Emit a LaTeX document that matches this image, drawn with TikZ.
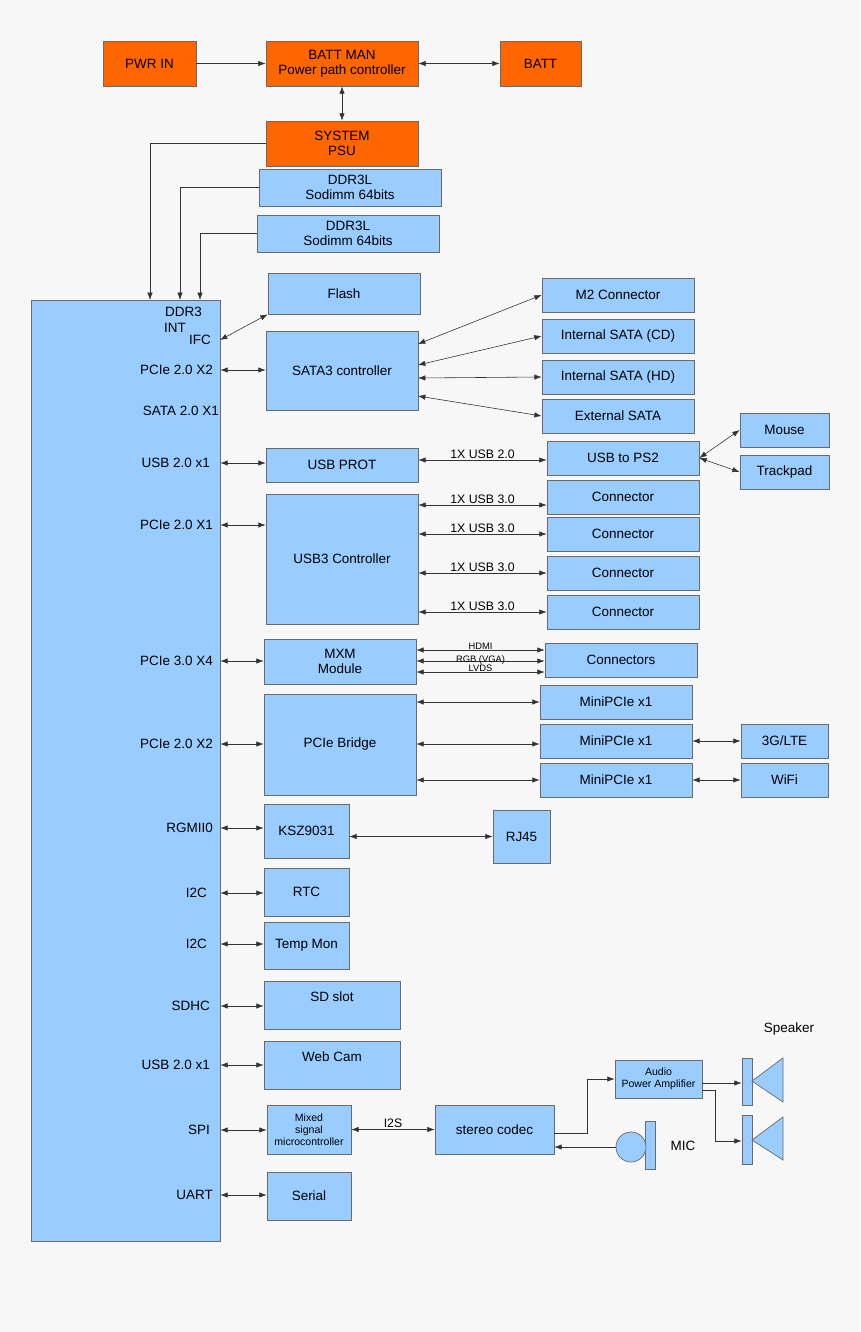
\documentclass[tikz,border=0pt]{standalone}
\usepackage{fontspec}
\setmainfont{Liberation Sans}
\usetikzlibrary{positioning, arrows.meta, calc}
\definecolor{orng}{HTML}{FF6600}
\definecolor{lblue}{HTML}{99CCFF}
\definecolor{edge}{HTML}{6A6A6A}
\definecolor{bg}{HTML}{F7F7F7}
\begin{document}
\begin{tikzpicture}[x=0.03cm, y=-0.03cm,
    blk/.style n args={2}{rectangle, draw=edge, fill=lblue, line width=0.6pt,
        minimum width=#1*0.03cm, minimum height=#2*0.03cm, inner sep=0pt,
        align=center, font=\fontsize{11.5}{12.5}\selectfont},
    pwr/.style n args={2}{blk={#1}{#2}, fill=orng},
    lbl/.style={anchor=east, font=\fontsize{11.5}{12.5}\selectfont, inner sep=0pt},
    tag/.style={font=\fontsize{10.5}{11}\selectfont, above, inner sep=1pt},
    arrow/.style={-{Latex[length=2.2mm, width=1.6mm]}, line width=0.5pt, draw=black!80},
    both/.style={{Latex[length=2.2mm, width=1.6mm]}-{Latex[length=2.2mm, width=1.6mm]}, line width=0.5pt, draw=black!80}
]
    \fill[bg] (0,0) rectangle (860,1332);

    % Power
    \node[pwr={93}{45}] (pwrin) at (149.5,63.5) {PWR IN};
    \node[pwr={152}{45}] (battman) at (342,63.5) {BATT MAN\\Power path controller};
    \node[pwr={81}{45}] (batt) at (540.5,63.5) {BATT};
    \node[pwr={152}{45}] (psu) at (342,143.5) {SYSTEM\\PSU};
    \draw[arrow] (pwrin) -- (battman);
    \draw[both] (battman) -- (batt);
    \draw[both] (battman) -- (psu);

    % Memory
    \node[blk={182}{37}] (ddra) at (350,187.5) {DDR3L\\Sodimm 64bits};
    \node[blk={182}{37}] (ddrb) at (348,233.5) {DDR3L\\Sodimm 64bits};

    % SoC
    \node[blk={189}{941}] (soc) at (125.5,770.5) {};
    \draw[arrow] (psu.west) -| (150,300);
    \draw[arrow] (ddra.west) -| (180,300);
    \draw[arrow] (ddrb.west) -| (200,300);

    \node[lbl] (lddr) at (202,312) {DDR3};
    \node[lbl] (lint) at (186,328) {INT};
    \node[lbl] (lifc) at (211,340) {IFC};
    \node[lbl] (lpcia) at (213,370) {PCIe 2.0 X2};
    \node[lbl] (lsata) at (219,411) {SATA 2.0 X1};
    \node[lbl] (lusba) at (210,463) {USB 2.0 x1};
    \node[lbl] (lpcib) at (213,525) {PCIe 2.0 X1};
    \node[lbl] (lpcic) at (213,661) {PCIe 3.0 X4};
    \node[lbl] (lpcid) at (213,744) {PCIe 2.0 X2};
    \node[lbl] (lrgm) at (213,828) {RGMII0};
    \node[lbl] (li2ca) at (207,893) {I2C};
    \node[lbl] (li2cb) at (207,944) {I2C};
    \node[lbl] (lsdhc) at (210,1006) {SDHC};
    \node[lbl] (lusbb) at (210,1065) {USB 2.0 x1};
    \node[lbl] (lspi) at (210,1130) {SPI};
    \node[lbl] (luart) at (213,1195) {UART};

    % Storage
    \node[blk={152}{41}] (flash) at (344,293.5) {Flash};
    \node[blk={152}{79}] (sata) at (342,370.5) {SATA3 controller};
    \node[blk={152}{34}] (mtwo) at (618,295) {M2 Connector};
    \node[blk={152}{34}] (satacd) at (618,336) {Internal SATA (CD)};
    \node[blk={152}{34}] (satahd) at (618,377) {Internal SATA (HD)};
    \node[blk={152}{34}] (satax) at (618,416) {External SATA};
    \draw[both] (220,340) -- (flash.south west);
    \draw[both] (lpcia -| soc.east) -- (lpcia -| sata.west);
    \draw[both] (418,344) -- (mtwo.west);
    \draw[both] (418,365) -- (satacd.west);
    \draw[both] (418,378) -- (satahd.west);
    \draw[both] (418,396) -- (satax.west);

    % USB 2.0
    \node[blk={152}{34}] (usbprot) at (342,465) {USB PROT};
    \node[blk={152}{34}] (ps2) at (623,458) {USB to PS2};
    \node[blk={89}{34}] (mouse) at (784.5,430) {Mouse};
    \node[blk={89}{34}] (pad) at (784.5,472) {Trackpad};
    \draw[both] (lusba -| soc.east) -- (lusba -| usbprot.west);
    \draw[both] (usbprot.east |- 0,460) -- node[tag] {1X USB 2.0} (ps2.west |- 0,460);
    \draw[both] (ps2.east) -- (mouse.west);
    \draw[both] (ps2.east) -- (pad.west);

    % USB 3.0
    \node[blk={152}{130}] (usbthree) at (342,559) {USB3 Controller};
    \draw[both] (lpcib -| soc.east) -- (lpcib -| usbthree.west);
    \foreach \n/\y/\w in {1/497/505, 2/534/534, 3/573/573, 4/612/612} {
        \node[blk={152}{34}] (conn\n) at (623,\y) {Connector};
        \draw[both] (usbthree.east |- 0,\w) -- node[tag] {1X USB 3.0} (conn\n.west |- 0,\w);
    }

    % Graphics
    \node[blk={152}{45}] (mxm) at (340,661.5) {MXM\\Module};
    \node[blk={152}{34}] (conns) at (621,660) {Connectors};
    \draw[both] (lpcic -| soc.east) -- (lpcic -| mxm.west);
    \draw[both] (mxm.east |- 0,650) -- node[tag, font=\fontsize{8}{8}\selectfont, inner sep=0.5pt] {HDMI} (conns.west |- 0,650);
    \draw[both] (mxm.east |- 0,661) -- node[font=\fontsize{8}{8}\selectfont, inner sep=0pt, yshift=1.2pt] {RGB (VGA)} (conns.west |- 0,661);
    \draw[both] (mxm.east |- 0,672) -- node[tag, font=\fontsize{8}{8}\selectfont, inner sep=0.3pt] {LVDS} (conns.west |- 0,672);

    % PCIe bridge
    \node[blk={152}{101}] (bridge) at (340,744.5) {PCIe Bridge};
    \node[blk={152}{34}] (minia) at (616,702) {MiniPCIe x1};
    \node[blk={152}{34}] (minib) at (616,741) {MiniPCIe x1};
    \node[blk={152}{34}] (minic) at (616,780) {MiniPCIe x1};
    \node[blk={87}{34}] (lte) at (784.5,741) {3G/LTE};
    \node[blk={87}{34}] (wifi) at (784.5,780) {WiFi};
    \draw[both] (lpcid -| soc.east) -- (lpcid -| bridge.west);
    \draw[both] (bridge.east |- minia) -- (minia.west);
    \draw[both] (bridge.east |- lpcid) -- (minib.west |- lpcid);
    \draw[both] (bridge.east |- minic) -- (minic.west);
    \draw[both] (minib) -- (lte);
    \draw[both] (minic) -- (wifi);

    % Peripherals
    \node[blk={85}{54}] (ksz) at (306.5,831) {KSZ9031};
    \node[blk={57}{53}] (rj) at (521.5,836.5) {RJ45};
    \node[blk={85}{48}] (rtc) at (306.5,892) {RTC};
    \node[blk={85}{47}] (temp) at (306.5,945.5) {Temp Mon};
    \node[blk={136}{48}, text depth=14pt] (sd) at (332,1005) {SD slot};
    \node[blk={136}{48}, text depth=14pt] (cam) at (332,1065) {Web Cam};
    \node[blk={84}{49}, font=\fontsize{9}{10}\selectfont] (mcu) at (309,1129.5) {Mixed\\signal\\microcontroller};
    \node[blk={119}{49}] (codec) at (494.5,1129.5) {stereo codec};
    \node[blk={84}{48}] (serial) at (309,1196) {Serial};
    \draw[both] (lrgm -| soc.east) -- (lrgm -| ksz.west);
    \draw[both] (ksz.east |- rj) -- (rj.west);
    \draw[both] (li2ca -| soc.east) -- (li2ca -| rtc.west);
    \draw[both] (li2cb -| soc.east) -- (li2cb -| temp.west);
    \draw[both] (lsdhc -| soc.east) -- (lsdhc -| sd.west);
    \draw[both] (lusbb -| soc.east) -- (lusbb -| cam.west);
    \draw[both] (lspi -| soc.east) -- (lspi -| mcu.west);
    \draw[both] (luart -| soc.east) -- (luart -| serial.west);
    \draw[both] (mcu) -- node[tag] {I2S} (codec);

    % Audio
    \node[blk={87}{38}, font=\fontsize{9}{10}\selectfont] (amp) at (658.5,1079) {Audio\\Power Amplifier};
    \node[blk={10}{47}] (spka) at (747,1081.5) {};
    \node[blk={10}{49}] (spkb) at (747,1139.5) {};
    \filldraw[fill=lblue, draw=edge, line width=0.6pt] (752,1081) -- (783,1058) -- (783,1102) -- cycle;
    \filldraw[fill=lblue, draw=edge, line width=0.6pt] (752,1140) -- (783,1117) -- (783,1160) -- cycle;
    \node[font=\fontsize{11.5}{12.5}\selectfont] (spklbl) at (789,1029) {Speaker};
    \node[blk={10}{48}] (micbar) at (650,1145) {};
    \node[circle, draw=edge, fill=lblue, line width=0.6pt, minimum size=30*0.03cm, inner sep=0pt] (mic) at (631,1147) {};
    \node[font=\fontsize{11.5}{12.5}\selectfont] (miclbl) at (683,1146) {MIC};
    \draw[arrow] (codec.east |- 0,1133) -| (587,1079) -- (amp.west);
    \draw[arrow] (mic.west) -- (codec.east |- mic);
    \draw[arrow] (amp.east |- 0,1083) -- (spka.west |- 0,1083);
    \draw[arrow] (amp.east |- 0,1090) -| (715,1141) -- (spkb.west |- 0,1141);
\end{tikzpicture}
\end{document}
